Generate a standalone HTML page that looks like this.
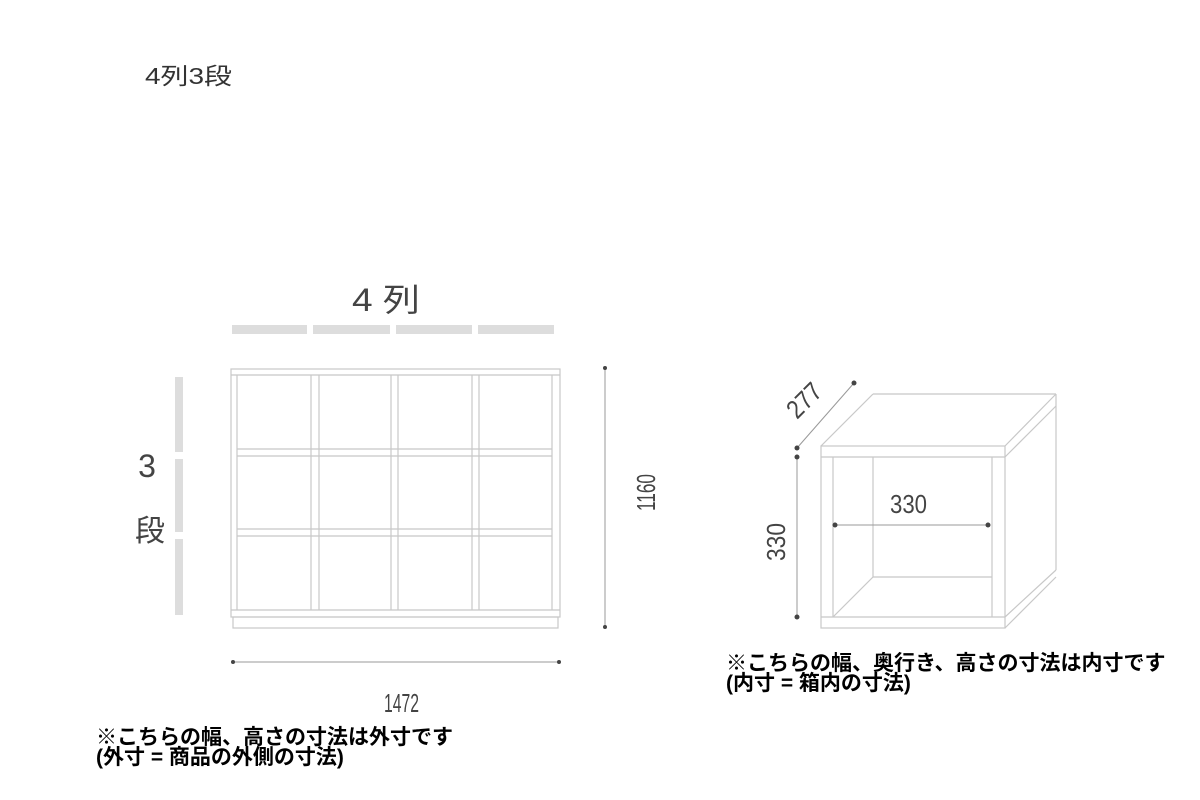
<!DOCTYPE html>
<html><head><meta charset="utf-8"><style>
body{margin:0;width:1200px;height:800px;background:#fff;overflow:hidden;position:relative;font-family:"Liberation Sans","Noto Sans CJK JP",sans-serif}
.n{position:absolute;font-weight:bold;font-size:21px;line-height:20px;color:#000;white-space:nowrap;letter-spacing:0}
</style></head><body>
<svg width="1200" height="800" style="position:absolute;left:0;top:0">
<g fill="#ddd">
<rect x="232" y="325" width="75" height="9"/><rect x="313" y="325" width="77" height="9"/><rect x="396" y="325" width="76" height="9"/><rect x="478" y="325" width="76" height="9"/>
<rect x="175" y="377" width="8" height="75"/><rect x="175" y="459" width="8" height="73"/><rect x="175" y="539" width="8" height="76"/>
</g>
<g fill="none" stroke="#c8c8c8" stroke-width="1.2">
<rect x="231" y="369" width="329" height="248"/>
<line x1="231" y1="375" x2="560" y2="375"/>
<line x1="237" y1="375" x2="237" y2="610"/><line x1="552" y1="375" x2="552" y2="610"/>
<line x1="311" y1="375" x2="311" y2="610"/><line x1="319" y1="375" x2="319" y2="610"/>
<line x1="391" y1="375" x2="391" y2="610"/><line x1="398" y1="375" x2="398" y2="610"/>
<line x1="472" y1="375" x2="472" y2="610"/><line x1="479" y1="375" x2="479" y2="610"/>
<line x1="237" y1="449" x2="552" y2="449"/><line x1="237" y1="456" x2="552" y2="456"/>
<line x1="237" y1="529" x2="552" y2="529"/><line x1="237" y1="536" x2="552" y2="536"/>
<line x1="231" y1="610" x2="560" y2="610"/>
<rect x="233" y="617" width="325" height="11"/>
<rect x="821" y="446" width="184" height="182"/>
<line x1="821" y1="457" x2="1005" y2="457"/><line x1="821" y1="617" x2="1005" y2="617"/>
<line x1="833" y1="457" x2="833" y2="617"/><line x1="992" y1="457" x2="992" y2="617"/>
<line x1="821" y1="446" x2="873" y2="394"/><line x1="873" y1="394" x2="1056" y2="394"/>
<line x1="1005" y1="446" x2="1056" y2="394"/><line x1="1005" y1="457" x2="1056" y2="406"/>
<line x1="1056" y1="394" x2="1056" y2="570"/>
<line x1="1005" y1="617" x2="1056" y2="570"/><line x1="1005" y1="628" x2="1056" y2="577"/>
<line x1="873" y1="457" x2="873" y2="577"/><line x1="873" y1="577" x2="992" y2="577"/>
<line x1="833" y1="617" x2="873" y2="577"/>
</g>
<g stroke="#999" stroke-width="1">
<line x1="605" y1="368" x2="605" y2="627"/>
<line x1="233" y1="662" x2="559" y2="662"/>
<line x1="835" y1="525" x2="988" y2="525"/>
<line x1="797" y1="457" x2="797" y2="617"/>
<line x1="797" y1="448" x2="854" y2="383"/>
</g>
<g fill="#444">
<circle cx="605" cy="368" r="2"/><circle cx="605" cy="627" r="2"/>
<circle cx="233" cy="662" r="2"/><circle cx="559" cy="662" r="2"/>
<circle cx="835" cy="525" r="2.5"/><circle cx="988" cy="525" r="2.5"/>
<circle cx="797" cy="448" r="2.5"/><circle cx="797" cy="457" r="2.5"/><circle cx="797" cy="617" r="2.5"/><circle cx="854" cy="383" r="2.5"/>
</g>
<g font-family="Liberation Sans, Noto Sans CJK JP, sans-serif" fill="#444" font-size="26">
<text x="655" y="511" transform="rotate(-90 655 511)" textLength="37" lengthAdjust="spacingAndGlyphs">1160</text>
<text x="384" y="712" textLength="35" lengthAdjust="spacingAndGlyphs">1472</text>
<text x="890" y="513" textLength="37" lengthAdjust="spacingAndGlyphs">330</text>
<text x="785" y="561" transform="rotate(-90 785 561)" textLength="38" lengthAdjust="spacingAndGlyphs">330</text>
<text x="797" y="420" transform="rotate(-45 797 420)" textLength="38" lengthAdjust="spacingAndGlyphs">277</text>
<text x="352" y="311" font-size="32" textLength="68" lengthAdjust="spacingAndGlyphs">4 列</text>
<text x="147" y="477" text-anchor="middle" font-size="32">3</text>
<text x="150" y="541" text-anchor="middle" font-size="30">段</text>
<text x="145" y="84" font-size="23" fill="#333" textLength="87" lengthAdjust="spacingAndGlyphs">4列3段</text>
</g>
</svg>
<div class="n" style="left:96px;top:728px">※こちらの幅、高さの寸法は外寸です<br>(外寸 = 商品の外側の寸法)</div>
<div class="n" style="left:726px;top:654px">※こちらの幅、奥行き、高さの寸法は内寸です<br>(内寸 = 箱内の寸法)</div>
</body></html>
